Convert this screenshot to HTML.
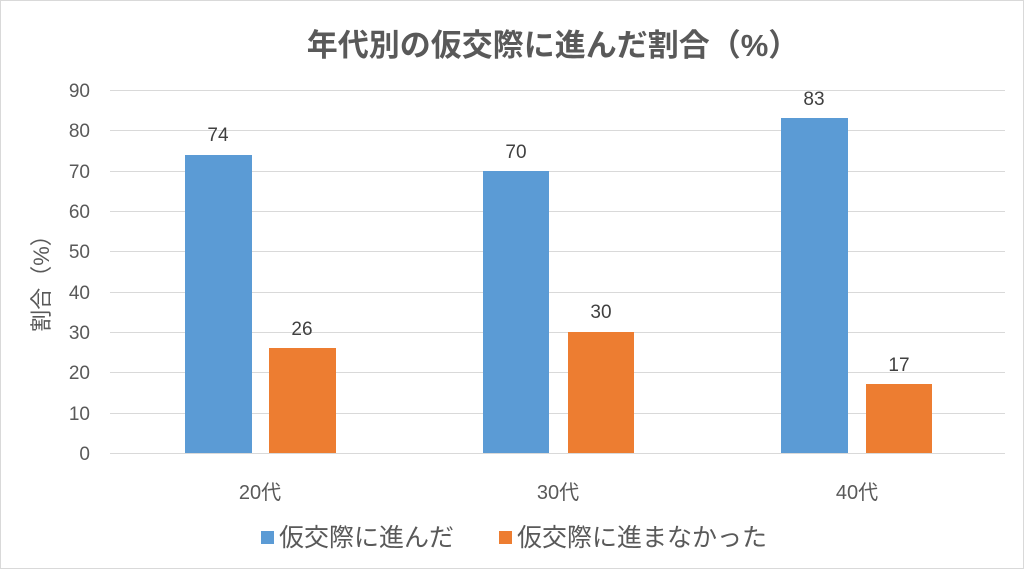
<!DOCTYPE html>
<html><head><meta charset="utf-8"><style>
body{margin:0;background:#fff;}
svg text{font-family:"Liberation Sans","Noto Sans CJK JP",sans-serif;}
</style></head><body>
<svg width="1024" height="569" viewBox="0 0 1024 569" xmlns="http://www.w3.org/2000/svg">
<rect x="0.5" y="0.5" width="1023" height="568" fill="#fff" stroke="#d9d9d9"/>
<text x="553" y="56" text-anchor="middle" font-size="31" font-weight="bold" fill="#595959">年代別の仮交際に進んだ割合（%）</text>
<g stroke="#d9d9d9" stroke-width="1">
<line x1="110" x2="1005" y1="90.5" y2="90.5"/>
<line x1="110" x2="1005" y1="130.5" y2="130.5"/>
<line x1="110" x2="1005" y1="171.5" y2="171.5"/>
<line x1="110" x2="1005" y1="211.5" y2="211.5"/>
<line x1="110" x2="1005" y1="251.5" y2="251.5"/>
<line x1="110" x2="1005" y1="292.5" y2="292.5"/>
<line x1="110" x2="1005" y1="332.5" y2="332.5"/>
<line x1="110" x2="1005" y1="372.5" y2="372.5"/>
<line x1="110" x2="1005" y1="413.5" y2="413.5"/>
<line x1="110" x2="1005" y1="453.5" y2="453.5"/>
</g>
<g font-size="19" fill="#595959" text-anchor="end">
<text x="90" y="97">90</text><text x="90" y="137">80</text><text x="90" y="178">70</text>
<text x="90" y="218">60</text><text x="90" y="258">50</text><text x="90" y="299">40</text>
<text x="90" y="339">30</text><text x="90" y="379">20</text><text x="90" y="420">10</text>
<text x="90" y="460">0</text>
</g>
<text transform="translate(49,278) rotate(-90)" text-anchor="middle" font-size="22" fill="#595959">割合（%）</text>
<g fill="#5b9bd5">
<rect x="185" y="155" width="67" height="298"/>
<rect x="483" y="171" width="66" height="282"/>
<rect x="781" y="118" width="67" height="335"/>
</g>
<g fill="#ed7d31">
<rect x="269" y="348" width="67" height="105"/>
<rect x="568" y="332" width="66" height="121"/>
<rect x="866" y="384" width="66" height="69"/>
</g>
<g font-size="19" fill="#404040" text-anchor="middle">
<text x="218" y="141">74</text><text x="516" y="158">70</text><text x="814" y="105">83</text>
<text x="302" y="335">26</text><text x="601" y="318">30</text><text x="899" y="371">17</text>
</g>
<g font-size="20" fill="#595959" text-anchor="middle">
<text x="260" y="499">20代</text><text x="558" y="499">30代</text><text x="857" y="499">40代</text>
</g>
<rect x="261" y="531" width="13" height="13" fill="#5b9bd5"/>
<text x="279" y="546" font-size="25" fill="#595959">仮交際に進んだ</text>
<rect x="499" y="531" width="13" height="13" fill="#ed7d31"/>
<text x="517" y="546" font-size="25" fill="#595959">仮交際に進まなかった</text>
</svg>
</body></html>
